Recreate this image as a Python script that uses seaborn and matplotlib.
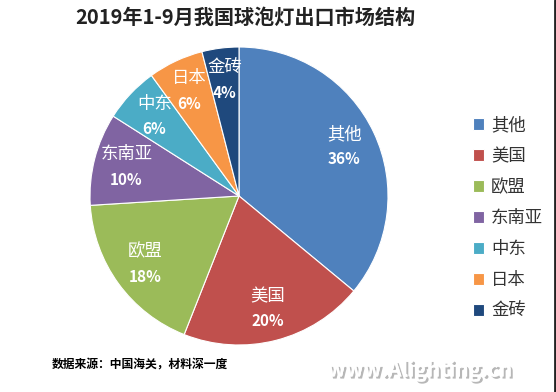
import numpy as np
import seaborn as sns
import matplotlib.pyplot as plt
import matplotlib.patheffects as pe
from matplotlib.lines import Line2D

# data
regions = ['其他', '美国', '欧盟', '东南亚', '中东', '日本', '金砖']
shares = [36, 20, 18, 10, 6, 6, 4]
colors = ['#4F81BD', '#C0504D', '#9BBB59', '#8064A2', '#4BACC6', '#F79646', '#1F497D']

sns.set_theme(style='white')
plt.rcParams['font.family'] = ['Noto Sans CJK SC', 'DejaVu Sans']

W, H = 556, 392
fig = plt.figure(figsize=(W / 100, H / 100), dpi=100)

# pie: center about (239,196) px, radius ~149 px
cx, cy, R = 239, 196, 149
ax = fig.add_axes([(cx - R) / W, (H - cy - R) / H, 2 * R / W, 2 * R / H])
wedges, _ = ax.pie(shares, colors=colors, startangle=90, counterclock=False,
                   wedgeprops=dict(edgecolor='white', linewidth=0.8))
ax.set_xlim(-1, 1)
ax.set_ylim(-1, 1)

#labels inside each slice: name on top, percent below
for w, name, val in zip(wedges, regions, shares):
    ang = np.deg2rad((w.theta1 + w.theta2) / 2)
    r = 0.78
    x, y = r * np.cos(ang), r * np.sin(ang)
    ax.text(x, y + 0.085, name, ha='center', va='center', color='white', fontsize=12.5)
    ax.text(x, y - 0.085, f'{val}%', ha='center', va='center', color='white',
            fontsize=11, fontweight='bold')

fig.text(245 / W, 1 - 17 / H, '2019年1-9月我国球泡灯出口市场结构', ha='center', va='center',
         fontsize=14.5, fontweight='bold', color='#222222')

leg = fig.legend(wedges, regions, loc='upper left', bbox_to_anchor=(466 / W, 1 - 109 / H),
                 frameon=False, fontsize=12.5, handlelength=0.65, handleheight=0.65,
                 handletextpad=0.4, labelspacing=0.75, borderaxespad=0)
for t in leg.get_texts():
    t.set_color('#333333')

fig.text(52 / W, 1 - 365 / H, '数据来源：中国海关，材料深一度', ha='left', va='center',
         fontsize=8.5, fontweight='bold', color='black')

wm = fig.text(420 / W, 1 - 370 / H, 'www.Alighting.cn', ha='center', va='center',
              fontsize=15, fontweight='heavy', color='white')
wm.set_path_effects([pe.withSimplePatchShadow(offset=(1.5, -1.5), shadow_rgbFace='#888888', alpha=0.6),
                     pe.Normal()])

# dark edge on the right side of the original image
fig.add_artist(Line2D([555 / W, 555 / W], [0, 1], color='#222222', lw=2,
                      transform=fig.transFigure))

plt.savefig('out.png', dpi=100)
plt.close()
